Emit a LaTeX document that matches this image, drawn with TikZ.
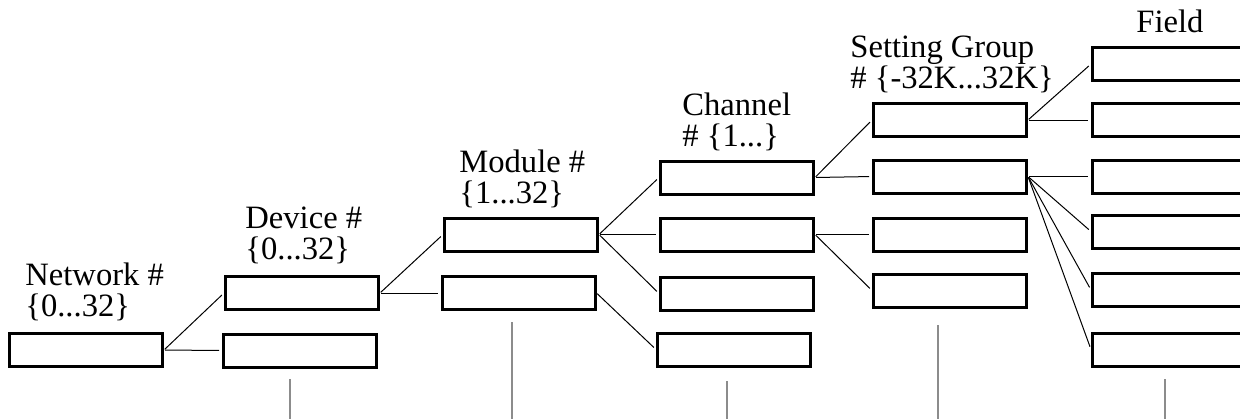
\documentclass[tikz,border=0pt]{standalone}
\usepackage{fontspec}
\setmainfont{Liberation Serif}
\usetikzlibrary{positioning}
\definecolor{cguide}{HTML}{8C8C8C}

\begin{document}
\begin{tikzpicture}[x=0.5pt, y=-0.5pt,
  slot/.style={draw, line width=1.5pt, minimum width=76.5pt, minimum height=16.5pt, inner sep=0pt},
  link/.style={line width=0.5pt, shorten <=0.5pt, shorten >=1.5pt},
  guide/.style={cguide, line width=0.6pt},
  lbl/.style={font=\fontsize{16.3}{15.5}\selectfont, align=left, anchor=base west, inner sep=0pt}]
  \useasboundingbox (0,0) rectangle (1240,419);
  \clip (0,0) rectangle (1240,419);

  % boxes, one column per level
  \node[slot] (net1) at (86,350) {};
  \node[slot] (dev1) at (302,293) {};
  \node[slot] (dev2) at (300,350.5) {};
  \node[slot] (mod1) at (521,234.5) {};
  \node[slot] (mod2) at (518.5,293) {};
  \foreach \i/\x/\y in {1/737/177.5, 2/737/234.5, 3/737/293.5, 4/734/349.5}
    \node[slot] (ch\i) at (\x,\y) {};
  \foreach \i/\y in {1/120, 2/176.5, 3/234.5, 4/290.5}
    \node[slot] (sg\i) at (950,\y) {};
  \foreach \i/\y in {1/64, 2/120, 3/176.5, 4/231.5, 5/290, 6/349.5}
    \node[slot] (fd\i) at (1169,\y) {};

  % headings (base = last line)
  \node[lbl] (netlbl) at (25,316) {Network \#\\\{0...32\}};
  \node[lbl] (devlbl) at (245,259) {Device \#\\\{0...32\}};
  \node[lbl] (modlbl) at (459,203) {Module \#\\\{1...32\}};
  \node[lbl] (chlbl) at (682,146) {Channel\\\# \{1...\}};
  \node[lbl] (sglbl) at (850,88) {Setting Group\\\# \{-32K...32K\}};
  \node[lbl] (fdlbl) at (1136,32) {Field};

  % tree links
  \foreach \a/\b in {net1/dev1, net1/dev2, dev1/mod1, dev1/mod2,
                     mod1/ch1, mod1/ch2, mod1/ch3, mod2/ch4,
                     ch1/sg1, ch1/sg2, ch2/sg3, ch2/sg4,
                     sg1/fd1, sg1/fd2, sg2/fd3, sg2/fd4, sg2/fd5, sg2/fd6}
    \draw[link] (\a.east) -- (\b.west);

  % gray ticks under the columns
  \foreach \k/\x/\t in {1/290/379, 2/512/322, 3/727/381, 4/938/325, 5/1165/379}{
    \coordinate (gtop\k) at (\x,\t);
    \coordinate (gbot\k) at (\x,419);
    \draw[guide] (gtop\k) -- (gbot\k);
  }
\end{tikzpicture}
\end{document}
